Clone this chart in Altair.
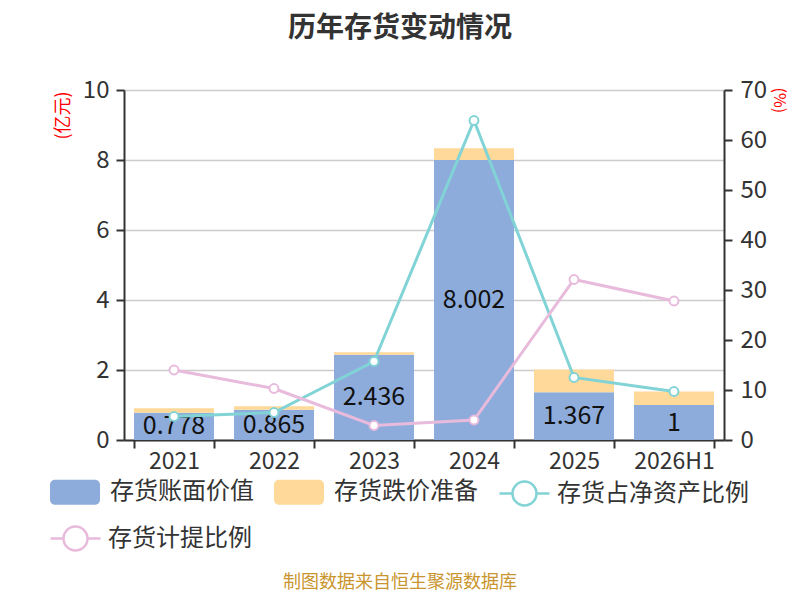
import altair as alt
import pandas as pd

# ---------------- data ----------------
years = ['2021', '2022', '2023', '2024', '2025', '2026H1']
book_value = [0.778, 0.865, 2.436, 8.002, 1.367, 1.0]          # 亿元
impairment = [0.127, 0.099, 0.073, 0.333, 0.646, 0.385]        # 亿元
inv_net_ratio = [4.7, 5.5, 15.7, 63.9, 12.5, 9.7]              # %
provision_ratio = [14.0, 10.3, 2.9, 4.0, 32.1, 27.8]           # %

bar_names = ['存货账面价值', '存货跌价准备']
line_names = ['存货占净资产比例', '存货计提比例']

title_text = '历年存货变动情况'
source_text = '制图数据来自恒生聚源数据库'
left_unit = '(亿元)'
right_unit = '(%)'
left_ticks = [0, 2, 4, 6, 8, 10]
right_ticks = [0, 10, 20, 30, 40, 50, 60, 70]

# ---------------- style ----------------
BLUE = '#8EACDB'
ORANGE = '#FFD999'
TEAL = '#81D3D6'
PINK = '#E8BADC'
FONT = 'Noto Sans CJK SC'
AX = '#333333'

RECT_PATH = ('M-0.8,-0.5 H0.8 A0.2,0.2 0 0 1 1,-0.3 V0.3 A0.2,0.2 0 0 1 0.8,0.5 '
             'H-0.8 A0.2,0.2 0 0 1 -1,0.3 V-0.3 A0.2,0.2 0 0 1 -0.8,-0.5 Z')
LINE_PATH = ('M-1,0 L-0.48,0 M0.48,0 L1,0 M-0.48,0 A0.48,0.48 0 1 0 0.48,0 '
             'A0.48,0.48 0 1 0 -0.48,0')

bars_df = pd.DataFrame({
    'year': years * 2,
    'series': [bar_names[0]] * len(years) + [bar_names[1]] * len(years),
    'value': book_value + impairment,
    'order': [0] * len(years) + [1] * len(years),
})
book_df = pd.DataFrame({'year': years, 'value': book_value})
line_df = pd.DataFrame({
    'year': years,
    'ratio': inv_net_ratio,
    'provision': provision_ratio,
    's1': [line_names[0]] * len(years),
    's2': [line_names[1]] * len(years),
})
src_df = pd.DataFrame({'t': [source_text]})

x_enc = alt.X(
    'year:N', sort=years,
    scale=alt.Scale(paddingInner=0.2, paddingOuter=0.1),
    axis=alt.Axis(title=None, labelAngle=0, tickBand='extent', grid=False,
                  domainColor=AX, domainWidth=2, tickColor=AX, tickWidth=2,
                  tickSize=8, labelFontSize=23, labelColor=AX, labelPadding=2,
                  labelFont=FONT),
)

left_axis = alt.Axis(
    title=left_unit, orient='left', values=left_ticks, grid=True,
    gridColor='#CCCCCC', gridWidth=1.5, domainColor=AX, domainWidth=2,
    tickColor=AX, tickWidth=2, tickSize=8, labelFontSize=24, labelColor=AX,
    labelPadding=7, labelFont=FONT, titleFont=FONT, titleColor='#FF0000',
    titleFontSize=18, titleFontWeight='normal', titleAngle=270, titleX=-61,
    titleY=25, titleAlign='center', titleBaseline='middle',
)
right_axis = alt.Axis(
    title=right_unit, orient='right', values=right_ticks, grid=False,
    domainColor=AX, domainWidth=2, tickColor=AX, tickWidth=2, tickSize=8,
    labelFontSize=24, labelColor=AX, labelPadding=8, labelFont=FONT,
    titleFont=FONT, titleColor='#FF0000', titleFontSize=16,
    titleFontWeight='normal', titleAngle=90, titleX=54, titleY=-3,
    titleAlign='left', titleBaseline='middle',
)
left_scale = alt.Scale(domain=[0, 10])
right_scale = alt.Scale(domain=[0, 70])

def legend(x, y, symbol, offset=10, **kw):
    return alt.Legend(title=None, orient='none', legendX=x, legendY=y,
                      direction='horizontal', symbolType=symbol, symbolSize=2500,
                      labelFontSize=24, labelColor=AX, labelFont=FONT,
                      labelOffset=offset, labelLimit=400, columnPadding=20,
                      padding=0, symbolOpacity=1, **kw)

bars = alt.Chart(bars_df).mark_bar().encode(
    x=x_enc,
    y=alt.Y('value:Q', stack='zero', scale=left_scale, axis=left_axis),
    fill=alt.Fill('series:N', scale=alt.Scale(domain=bar_names, range=[BLUE, ORANGE]),
                  legend=legend(-74, 377, RECT_PATH, symbolStrokeWidth=0)),
    order=alt.Order('order:Q'),
)

labels = alt.Chart(book_df).transform_calculate(mid='datum.value / 2').mark_text(
    font=FONT, fontSize=25, color='#111111', baseline='middle', align='center'
).encode(
    x=x_enc,
    y=alt.Y('mid:Q', scale=left_scale, axis=left_axis),
    text=alt.Text('value:Q', format='.4~g'),
)

source = alt.Chart(src_df).mark_text(
    font=FONT, fontSize=18, color='#C9952E', align='center', baseline='middle'
).encode(x=alt.value(276), y=alt.value(493), text='t:N')

teal_line = alt.Chart(line_df).mark_line(strokeWidth=3).encode(
    x=x_enc,
    y=alt.Y('ratio:Q', scale=right_scale, axis=right_axis),
    stroke=alt.Stroke('s1:N', scale=alt.Scale(domain=[line_names[0]], range=[TEAL]),
                      legend=legend(374, 377, LINE_PATH, offset=6,
                                    symbolStrokeWidth=2.5,
                                    symbolFillColor='white')),
)
pink_line = alt.Chart(line_df).mark_line(strokeWidth=3).encode(
    x=x_enc,
    y=alt.Y('provision:Q', scale=right_scale, axis=right_axis),
    color=alt.Color('s2:N', scale=alt.Scale(domain=[line_names[1]], range=[PINK]),
                    legend=legend(-75, 422, LINE_PATH, offset=6,
                                  symbolStrokeWidth=2.5,
                                  symbolFillColor='white')),
)
teal_pts = alt.Chart(line_df).mark_point(
    shape='circle', fill='white', stroke=TEAL, strokeWidth=2, size=80,
    opacity=1, fillOpacity=1
).encode(x=x_enc, y=alt.Y('ratio:Q', scale=right_scale, axis=right_axis))
pink_pts = alt.Chart(line_df).mark_point(
    shape='circle', fill='white', stroke=PINK, strokeWidth=2, size=80,
    opacity=1, fillOpacity=1
).encode(x=x_enc, y=alt.Y('provision:Q', scale=right_scale, axis=right_axis))

left = alt.layer(bars, labels, source)
right = alt.layer(teal_line, pink_line, teal_pts, pink_pts)

chart = alt.layer(left, right).resolve_scale(y='independent').properties(
    width=600, height=350,
    autosize=alt.AutoSizeParams(type='none'),
    padding={'left': 116, 'top': 82, 'right': 68, 'bottom': 152},
    title=alt.TitleParams(text=title_text, font=FONT, fontSize=28,
                          fontWeight='bold', color=AX, anchor='middle',
                          frame='group', dx=-24, offset=35),
).configure_view(stroke=None).configure(font=FONT, background='white')

chart.save('out.html', embed_options={'renderer': 'svg', 'actions': False})
